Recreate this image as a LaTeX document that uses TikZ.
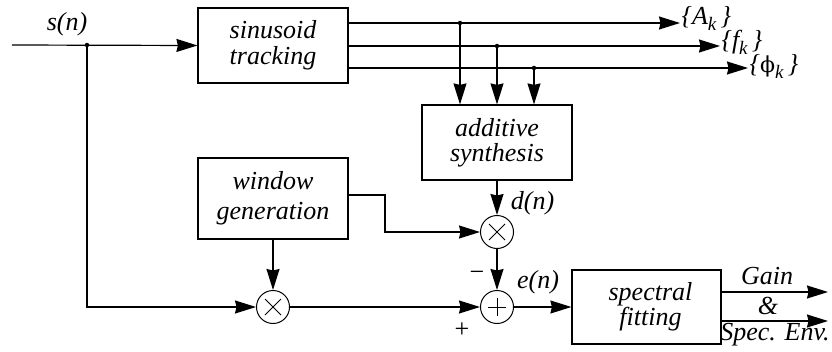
\documentclass[tikz,border=0pt]{standalone}
\usepackage{fontspec}
\setmainfont{Liberation Serif}
\newfontfamily\dvserif{DejaVu Serif}
\usetikzlibrary{arrows.meta,calc}
\newcommand{\subk}{\raisebox{-6pt}{\fontsize{19}{19}\selectfont k}}
\begin{document}
\begin{tikzpicture}[x=1pt,y=-1pt, line width=1.2pt,
 every node/.style={font=\fontsize{26}{24}\selectfont\itshape},
 blk/.style={draw, minimum width=150pt, inner sep=0pt, align=center},
 op/.style={draw, line width=1pt, circle, minimum size=33pt, inner sep=0pt},
 mult/.style={path picture={\draw[line width=0.8pt] ($(path picture bounding box.center)+(-8,-8)$) -- ($(path picture bounding box.center)+(8,8)$) ($(path picture bounding box.center)+(-8,8)$) -- ($(path picture bounding box.center)+(8,-8)$);}},
 plus/.style={path picture={\draw[line width=0.8pt] ($(path picture bounding box.center)+(-9,0)$) -- ($(path picture bounding box.center)+(9,0)$) ($(path picture bounding box.center)+(0,-9)$) -- ($(path picture bounding box.center)+(0,9)$);}},
 arr/.style={-{Stealth[length=21pt,width=13pt,inset=1.5pt]}},
 dot/.style={circle, fill, inner sep=0pt, minimum size=4.5pt},
 lab/.style={anchor=base west, inner sep=1pt},
 sign/.style={font=\fontsize{26}{26}\selectfont\upshape}]
\useasboundingbox (0,0) rectangle (832,351);

\node[blk, minimum height=75pt] (track) at (273,45.5) {sinusoid\\[2pt]tracking};
\node[blk, minimum height=75pt] (synth) at (497,142.5) {additive\\[1pt]synthesis};
\node[blk, minimum height=81pt] (win) at (273,198.5) {window\\[6pt]generation};
\node[blk, minimum width=149pt, minimum height=74pt] (fit) at (646.5,307) {\hspace*{8pt}spectral\\[1pt]\hspace*{8pt}fitting};
\node[op, mult] (mw) at (497,232) {};
\node[op, mult] (mx) at (273,307) {};
\node[op, plus] (sum) at (497,307) {};

% input
\coordinate (in) at (12,45);
\coordinate (sp) at (87,45);
\node (sn) at (67,24) {s(n)};
\draw[arr] (in) -- (track.west);
\node[dot] (spd) at (sp) {};
\draw[arr] (sp) |- (mx.west);

% tracking outputs
\coordinate (Ae) at (680,23);
\coordinate (fe) at (720,46);
\coordinate (pe) at (748,68);
\draw[arr] (track.east |- Ae) -- (Ae);
\draw[arr] (track.east |- fe) -- (fe);
\draw[arr] (track.east |- pe) -- (pe);
\node[lab] (Al) at ($(Ae)+(0,1)$) {\{A\subk\,\}};
\node[lab] (fl) at ($(fe)+(0,2)$) {\{f\subk\,\}};
\node[lab] (pl) at ($(pe)+(0,4)$) {\{{\upshape\dvserif\fontsize{22}{22}\selectfont ϕ}\subk\,\}};

\coordinate (dA) at (460,23);
\coordinate (df) at (497,46);
\coordinate (dp) at (534,68);
\node[dot] (dAd) at (dA) {};
\node[dot] (dfd) at (df) {};
\node[dot] (dpd) at (dp) {};
\draw[arr] (dA) -- (dA |- synth.north);
\draw[arr] (df) -- (df |- synth.north);
\draw[arr] (dp) -- (dp |- synth.north);

% synthesis and window
\draw[arr] (synth) -- (mw);
\node[anchor=west] (dn) at (507,203) {d(n)};
\coordinate (wk) at (385,195);
\draw[arr] (win.east |- wk) -- (wk) |- (mw.west);
\draw[arr] (win) -- (mx);

% sum
\draw[arr] (mx) -- (sum);
\draw[arr] (mw) -- (sum);
\node[sign] (minus) at (477,276) {−};
\node[sign] (plussign) at (462,330) {+};
\draw[arr] (sum) -- (fit);
\node (en) at (538,282) {e(n)};

% outputs
\coordinate (g1) at (828,292);
\coordinate (g2) at (828,321);
\draw[arr] (fit.east |- g1) -- (g1);
\draw[arr] (fit.east |- g2) -- (g2);
\node (gain) at (767,276) {Gain};
\node (amp) at (768,306) {\&};
\node (env) at (775,335) {Spec. Env.};
\end{tikzpicture}
\end{document}
